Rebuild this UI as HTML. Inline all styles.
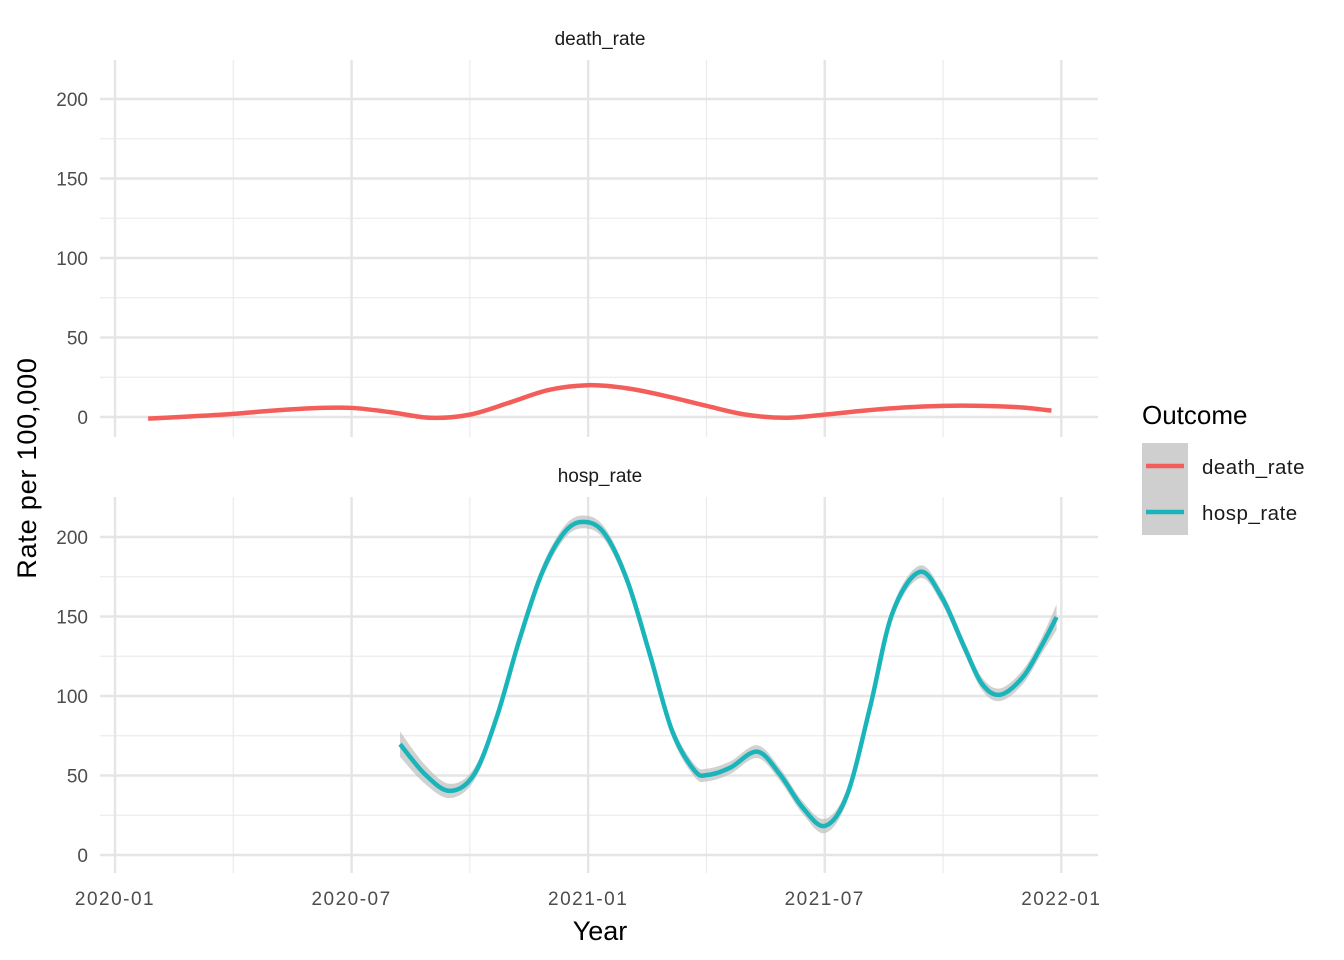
<!DOCTYPE html>
<html><head><meta charset="utf-8"><style>
body{margin:0;background:#fff}
svg{display:block;font-family:"Liberation Sans",Arial,sans-serif}
</style></head><body>
<svg id="c" width="1344" height="960"></svg>
<script>
const yTicks=[0,50,100,150,200];
const yMinor=[25,75,125,175];
const xTickLabels=["2020-01","2020-07","2021-01","2021-07","2022-01"];
const xTickMonths=[0,6,12,18,24];
const xMinorMonths=[3,9,15,21];
const deathMonths=[0.84,2,3,4,5,6,7,8,9,10,11,12,13,14,15,16,17,18,19,20,21,22,23,23.75];
const deathValues=[-1,0.5,2,4,5.5,5.7,3,-0.5,1.5,9,17,20,18,13,7,1.5,-0.5,1.5,4,6,7,7,6,4];
const hospMonths=[7.23,7.86,8.49,9.11,9.68,10.25,10.82,11.4,11.9,12.42,12.99,13.56,14.13,14.7,15.04,15.61,16.29,16.86,17.44,18.01,18.57,19.15,19.71,20.4,20.97,21.54,21.99,22.45,23.02,23.48,23.88];
const hospValues=[69.7,50.8,40.3,50.8,86.6,134.9,176.9,203,209.5,202,172.7,126.5,78,53,50.4,55,65,50.8,29.8,18.3,38,93,151.7,178,162,130.7,107.6,100.8,111.8,130.7,149.6];
const hospSe=[8,6,4.5,4,4,4,4,4,4,4,4,4,4,4,4,4,4,4,4,4.5,4,4,4,4,4,4,4,4,4.5,5,8];
const svg=document.getElementById('c');
const NS='http://www.w3.org/2000/svg';
function mk(t,a,p){const e=document.createElementNS(NS,t);for(const k in a)e.setAttribute(k,a[k]);(p||svg).appendChild(e);return e;}
const xS=m=>115+m*39.43;
const panels=[{top:60,bot:437,y0:417,name:'death_rate'},{top:497,bot:873,y0:855,name:'hosp_rate'}];
const yS=(p,v)=>p.y0-v*1.59;
function smooth(pts){let d='M'+pts[0][0]+','+pts[0][1];for(let i=0;i<pts.length-1;i++){const p0=pts[i-1]||pts[i],p1=pts[i],p2=pts[i+1],p3=pts[i+2]||p2;d+=' C'+(p1[0]+(p2[0]-p0[0])/6)+','+(p1[1]+(p2[1]-p0[1])/6)+' '+(p2[0]-(p3[0]-p1[0])/6)+','+(p2[1]-(p3[1]-p1[1])/6)+' '+p2[0]+','+p2[1];}return d;}
panels.forEach((p,pi)=>{
  const g=mk('g',{});
  
  
  yMinor.forEach(v=>mk('line',{x1:100,x2:1098,y1:yS(p,v),y2:yS(p,v),stroke:'#ebebeb','stroke-width':1.2},g));
  xMinorMonths.forEach(m=>mk('line',{x1:xS(m),x2:xS(m),y1:p.top,y2:p.bot,stroke:'#ebebeb','stroke-width':1.2},g));
  yTicks.forEach(v=>{mk('line',{x1:100,x2:1098,y1:yS(p,v),y2:yS(p,v),stroke:'#e5e5e5','stroke-width':2.4},g);
    const t=mk('text',{x:88,y:yS(p,v)+7,'text-anchor':'end','font-size':19,fill:'#4d4d4d'},g);t.textContent=v;
    });
  xTickMonths.forEach(m=>mk('line',{x1:xS(m),x2:xS(m),y1:p.top,y2:p.bot,stroke:'#e5e5e5','stroke-width':2.4},g));
  const st=mk('text',{x:600,y:p.top-15,'text-anchor':'middle','font-size':19,fill:'#1a1a1a'},g);st.textContent=p.name;
  
});
const dp=deathMonths.map((m,i)=>[xS(m),yS(panels[0],deathValues[i])]);
const dl=mk('path',{d:smooth(dp),fill:'none',stroke:'#F35E5A','stroke-width':4.5});

const up=hospMonths.map((m,i)=>[xS(m),yS(panels[1],hospValues[i]+hospSe[i])]);
const lo=hospMonths.map((m,i)=>[xS(m),yS(panels[1],hospValues[i]-hospSe[i])]).reverse();
const lod=smooth(lo).replace(/^M/,' L');
const rb=mk('path',{d:smooth(up)+lod+' Z',fill:'#bdbdbd','fill-opacity':0.7});

const hp=hospMonths.map((m,i)=>[xS(m),yS(panels[1],hospValues[i])]);
const hl=mk('path',{d:smooth(hp),fill:'none',stroke:'#1AB5BA','stroke-width':4.5});

xTickMonths.forEach((m,i)=>{const t=mk('text',{x:xS(m),y:905,'text-anchor':'middle','font-size':19,fill:'#4d4d4d','letter-spacing':1.5});t.textContent=xTickLabels[i];
  });
let t=mk('text',{x:600,y:940,'text-anchor':'middle','font-size':27,fill:'#000'});t.textContent='Year';

t=mk('text',{x:0,y:0,transform:'translate(36,468) rotate(-90)','text-anchor':'middle','font-size':27,fill:'#000','letter-spacing':0.8});t.textContent='Rate per 100,000';

t=mk('text',{x:1142,y:424,'font-size':26,fill:'#000'});t.textContent='Outcome';

[['death_rate','#F35E5A',443],['hosp_rate','#1AB5BA',489]].forEach(([n,c,y])=>{
  const g=mk('g',{});
  mk('rect',{x:1142,y:y,width:46,height:46,fill:'#cfcfcf'},g);
  mk('line',{x1:1146,x2:1184,y1:y+23,y2:y+23,stroke:c,'stroke-width':4.5},g);
  const tt=mk('text',{x:1202,y:y+31,'font-size':20.5,fill:'#1a1a1a','letter-spacing':0.5},g);tt.textContent=n;
});
</script>
</body></html>
